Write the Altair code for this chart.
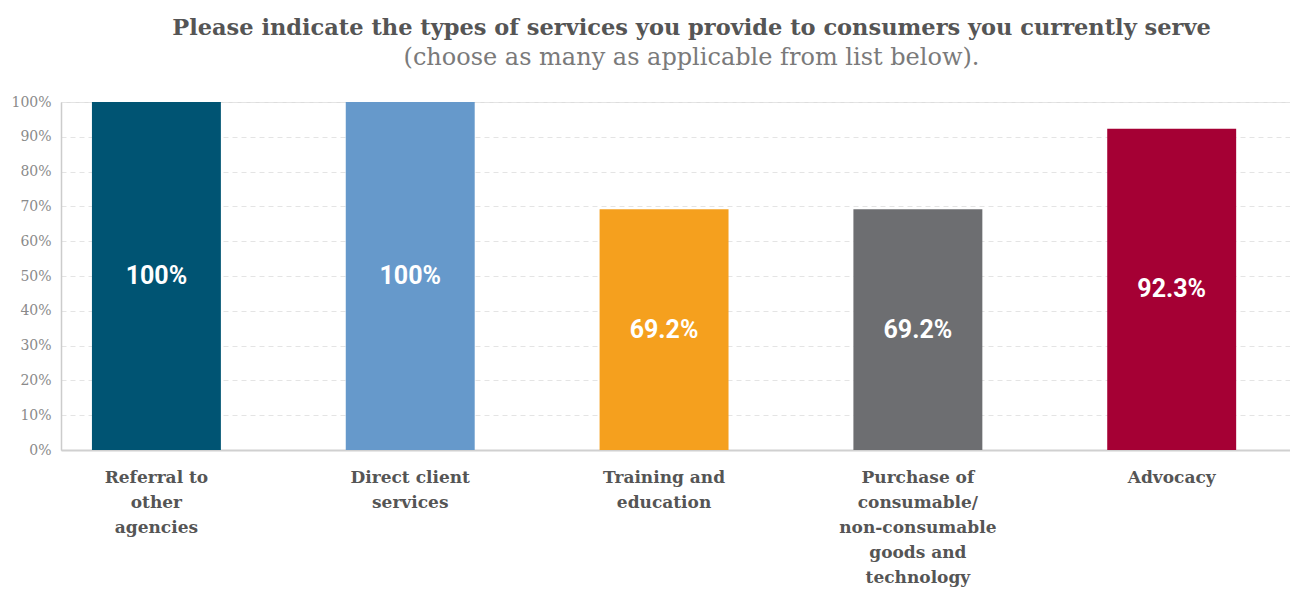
import altair as alt
import pandas as pd

# Survey responses: share of providers offering each service type
services = [
    "Referral to|other|agencies",
    "Direct client|services",
    "Training and|education",
    "Purchase of|consumable/|non-consumable|goods and|technology",
    "Advocacy",
]
shares = [100.0, 100.0, 69.2, 69.2, 92.3]
bar_colors = ["#005473", "#6699CB", "#F5A01E", "#6D6E71", "#A50034"]
y_ticks = [0, 10, 20, 30, 40, 50, 60, 70, 80, 90, 100]

df = pd.DataFrame({"service": services, "share": shares})
df["mid"] = df["share"] / 2
df["label"] = df["share"].map(lambda v: f"{v:g}%")

slab = "DejaVu Serif"

x_scale = alt.Scale(paddingInner=0.492, paddingOuter=0.167, align=0.365)
y_scale = alt.Scale(domain=[0, 100])

x_axis = alt.Axis(
    title=None,
    labelExpr="split(datum.label, '|')",
    labelAngle=0,
    labelFont=slab,
    labelFontWeight="bold",
    labelFontSize=17,
    labelColor="#555555",
    labelLineHeight=25,
    labelPadding=19,
    ticks=False,
    domainColor="#d0d0d0",
    domainWidth=2,
    labelBaseline="top",
)

y_axis = alt.Axis(
    title=None,
    values=y_ticks,
    labelOverlap=False,
    labelExpr="datum.value + '%'",
    labelFont=slab,
    labelFontSize=14,
    labelColor="#8a8a8a",
    labelPadding=10,
    ticks=False,
    domainColor="#cccccc",
    domainWidth=1.5,
    grid=True,
    gridColor="#e4e4e4",
    gridDash=[5, 4],
    gridWidth=1,
)

bars = alt.Chart(df).mark_bar().encode(
    x=alt.X("service:N", sort=services, scale=x_scale, axis=x_axis),
    y=alt.Y("share:Q", scale=y_scale, axis=y_axis),
    color=alt.Color("service:N", sort=services,
                    scale=alt.Scale(domain=services, range=bar_colors),
                    legend=None),
)

values = alt.Chart(df).mark_text(
    color="white", font="Roboto", fontWeight="bold", fontSize=25
).encode(
    x=alt.X("service:N", sort=services, scale=x_scale, axis=x_axis),
    y=alt.Y("mid:Q", scale=y_scale, axis=y_axis),
    text="label:N",
)

chart = (
    alt.layer(bars, values)
    .properties(
        width=1229,
        height=348,
        autosize=alt.AutoSizeParams(type="none"),
        padding={"left": 61, "top": 102, "right": 0, "bottom": 139},
        title=alt.TitleParams(
            text="Please indicate the types of services you provide to consumers you currently serve",
            subtitle="(choose as many as applicable from list below).",
            anchor="middle",
            dx=16,
            offset=25,
            font=slab,
            fontSize=22.5,
            fontWeight="bold",
            color="#555555",
            subtitleFont=slab,
            subtitleFontSize=24,
            subtitleFontWeight="normal",
            subtitleColor="#7a7a7a",
            subtitlePadding=7,
        ),
    )
    .configure_view(stroke=None)
    .configure(background="white")
)

chart.save("out.html", embed_options={"renderer": "svg", "actions": False})
